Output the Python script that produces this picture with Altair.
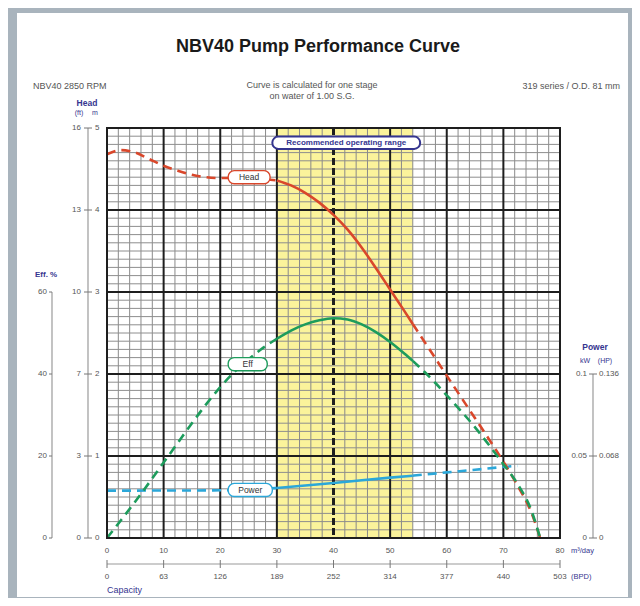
import altair as alt
import pandas as pd

# ---------------- data ----------------
flow = [0, 2.5, 5, 7.5, 10, 12.5, 15, 17.5, 20, 22.5, 25, 27.5, 30, 32.5, 35, 37.5,
        40, 42.5, 45, 47.5, 50, 52.5, 54, 56, 58, 60, 62.5, 65, 67.5, 70, 72.5, 75, 76.5]
head_m = [4.68, 4.73, 4.70, 4.62, 4.54, 4.48, 4.43, 4.40, 4.39, 4.39, 4.39, 4.38, 4.36, 4.30,
          4.21, 4.09, 3.94, 3.76, 3.54, 3.29, 3.03, 2.77, 2.61, 2.40, 2.19, 1.98, 1.72, 1.46,
          1.20, 0.93, 0.64, 0.30, 0.0]
eff_pct = [0, 4.4, 8.9, 13.6, 18.4, 23.2, 28.0, 32.6, 36.8, 40.5, 43.6, 46.3, 48.6, 50.6,
           52.1, 53.1, 53.6, 53.3, 52.1, 50.2, 47.8, 45.0, 43.2, 40.6, 37.8, 34.8, 31.0,
           27.0, 22.6, 18.0, 13.2, 6.5, 0]
power_flow = [0, 5, 10, 15, 20, 25, 30, 35, 40, 45, 50, 54, 60, 65, 70, 72.5]
power_kw = [0.0289, 0.0289, 0.0290, 0.0290, 0.0291, 0.0295, 0.0305, 0.0320, 0.0335,
            0.0352, 0.0368, 0.0380, 0.0400, 0.0416, 0.0433, 0.0440]

rec_range = [30, 54]
bep_flow = 40

x_ticks = [0, 10, 20, 30, 40, 50, 60, 70, 80]
x_labels = ["0", "10", "20", "30", "40", "50", "60", "70", "80"]
bpd_labels = ["0", "63", "126", "189", "252", "314", "377", "440", "503"]
head_m_ticks = [0, 1, 2, 3, 4, 5]
head_ft_labels = ["0", "3", "7", "10", "13", "16"]
eff_ticks = [0, 20, 40, 60]
power_ticks = [0, 0.05, 0.1]
power_kw_labels = ["0", "0.05", "0.1"]
power_hp_labels = ["0", "0.068", "0.136"]

# ---------------- style ----------------
W, H = 453, 410
FONT = "Liberation Sans"
RED, GREEN, BLUE = "#d9472b", "#1d9c5c", "#2ba7d9"
NAVY = "#35358f"
GRAYTXT = "#555555"

xs = alt.Scale(domain=[0, 80], nice=False, zero=False)
ys_head = alt.Scale(domain=[0, 5], nice=False, zero=False)
ys_eff = alt.Scale(domain=[0, 100], nice=False, zero=False)
ys_pow = alt.Scale(domain=[0, 0.25], nice=False, zero=False)

one = pd.DataFrame({"a": [0]})


def X(field, **kw):
    return alt.X(field, scale=xs, axis=None, **kw)


def Y(field, scale, **kw):
    return alt.Y(field, scale=scale, axis=None, **kw)


def txt(text, x, y, size=8, color=GRAYTXT, align="center", weight="normal"):
    return alt.Chart(pd.DataFrame({"t": [text]})).mark_text(
        align=align, baseline="middle", fontSize=size, color=color,
        fontWeight=weight, font=FONT
    ).encode(x=alt.value(x), y=alt.value(y), text="t:N")


def prect(x0, x1, y0, y1, color):
    return alt.Chart(one).mark_rect(color=color).encode(
        x=alt.value(x0), x2=alt.value(x1), y=alt.value(y0), y2=alt.value(y1))


layers = []

# frame
FRAME = "#a9b4bd"
layers += [prect(-99, -90, -120, 470, FRAME), prect(-99, 530, -120, -115, FRAME),
           prect(521, 530, -120, 470, FRAME), prect(-99, 530, 469, 478, FRAME)]

# recommended operating range band
band = pd.DataFrame({"x0": [rec_range[0]], "x1": [rec_range[1]]})
layers.append(alt.Chart(band).mark_rect(color="#fbf39b").encode(
    x=X("x0:Q"), x2="x1:Q"))

# minor grid
vminor = pd.DataFrame({"v": [v for v in range(0, 81, 2) if v % 10 != 0]})
hminor = pd.DataFrame({"v": [i / 10 for i in range(0, 51) if i % 10 != 0]})
layers.append(alt.Chart(vminor).mark_rule(color="#8a8a8a", strokeWidth=1).encode(x=X("v:Q")))
layers.append(alt.Chart(hminor).mark_rule(color="#8e8e8e", strokeWidth=1).encode(
    y=Y("v:Q", ys_head)))

# major grid
vmajor = pd.DataFrame({"v": [v for v in x_ticks if v != bep_flow]})
hmajor = pd.DataFrame({"v": head_m_ticks})
layers.append(alt.Chart(vmajor).mark_rule(color="#1e1e1e", strokeWidth=2).encode(x=X("v:Q")))
layers.append(alt.Chart(hmajor).mark_rule(color="#1e1e1e", strokeWidth=2).encode(
    y=Y("v:Q", ys_head)))
layers.append(alt.Chart(pd.DataFrame({"v": [bep_flow]})).mark_rule(
    color="#1e1e1e", strokeWidth=3, strokeDash=[7, 3]).encode(x=X("v:Q")))


def segments(xv, yv, name):
    rows = []
    for x, y in zip(xv, yv):
        if x <= rec_range[0]:
            rows.append({"x": x, "y": y, "part": "pre", "s": name})
        if rec_range[0] <= x <= rec_range[1]:
            rows.append({"x": x, "y": y, "part": "mid", "s": name})
        if x >= rec_range[1]:
            rows.append({"x": x, "y": y, "part": "post", "s": name})
    return pd.DataFrame(rows)


def curve(df, scale, color):
    dashed = alt.Chart(df[df.part != "mid"]).mark_line(
        color=color, strokeWidth=2.6, strokeDash=[9, 6], interpolate="monotone"
    ).encode(x=X("x:Q"), y=Y("y:Q", scale), detail="part:N", order="x:Q")
    solid = alt.Chart(df[df.part == "mid"]).mark_line(
        color=color, strokeWidth=2.6, interpolate="monotone"
    ).encode(x=X("x:Q"), y=Y("y:Q", scale), order="x:Q")
    return [dashed, solid]


layers += curve(segments(power_flow, power_kw, "Power"), ys_pow, BLUE)
layers += curve(segments(flow, head_m, "Head"), ys_head, RED)
layers += curve(segments(flow, eff_pct, "Eff"), ys_eff, GREEN)

# plot border
layers.append(prect(0, W, 0, H, "transparent").mark_rect(
    fill=None, stroke="#1e1e1e", strokeWidth=2))


# curve label boxes
def label_box(x0, x1, yc, hh, scale, color, text, tcolor="#333333", weight="normal", fill="white", sw=1.4, size=8.5):
    d = pd.DataFrame({"x0": [x0], "x1": [x1], "y0": [yc - hh], "y1": [yc + hh],
                      "xc": [(x0 + x1) / 2], "yc": [yc], "t": [text]})
    box = alt.Chart(d).mark_rect(fill=fill, stroke=color, strokeWidth=sw, cornerRadius=6).encode(
        x=X("x0:Q"), x2="x1:Q", y=Y("y0:Q", scale), y2="y1:Q")
    lab = alt.Chart(d).mark_text(fontSize=size, font=FONT, color=tcolor, fontWeight=weight,
                                 baseline="middle").encode(
        x=X("xc:Q"), y=Y("yc:Q", scale), text="t:N")
    return [box, lab]


layers += label_box(21.4, 28.8, 4.40, 0.08, ys_head, RED, "Head")
layers += label_box(21.4, 28.3, 42.4, 1.6, ys_eff, GREEN, "Eff")
layers += label_box(21.4, 29.2, 0.0293, 0.004, ys_pow, BLUE, "Power")
layers += label_box(29.2, 55.3, 4.82, 0.075, ys_head, NAVY, "Recommended operating range",
                    tcolor=NAVY, weight="bold", sw=2, size=8)

# ---------- left axes ----------
# head axis (ft | m)
layers.append(alt.Chart(pd.DataFrame({"a": [0], "b": [5]})).mark_rule(
    color="#9a9a9a", strokeWidth=1.2).encode(x=alt.value(-19), y=Y("a:Q", ys_head), y2="b:Q"))
hd = pd.DataFrame({"v": head_m_ticks, "ft": head_ft_labels, "m": [str(v) for v in head_m_ticks]})
layers.append(alt.Chart(hd).mark_rule(color="#777777").encode(
    x=alt.value(-23), x2=alt.value(-15), y=Y("v:Q", ys_head)))
layers.append(alt.Chart(hd).mark_text(align="right", baseline="middle", fontSize=8, font=FONT,
                                      color=GRAYTXT).encode(
    x=alt.value(-26), y=Y("v:Q", ys_head), text="ft:N"))
layers.append(alt.Chart(hd).mark_text(align="left", baseline="middle", fontSize=8, font=FONT,
                                      color=GRAYTXT).encode(
    x=alt.value(-12), y=Y("v:Q", ys_head), text="m:N"))
layers.append(txt("Head", -20, -25, size=8.5, color=NAVY, weight="bold"))
layers.append(txt("(ft)", -28, -15, size=7, color=NAVY))
layers.append(txt("m", -12, -15, size=7, color=NAVY))

# efficiency axis
layers.append(alt.Chart(pd.DataFrame({"a": [0], "b": [60]})).mark_rule(
    color="#9a9a9a", strokeWidth=1.2).encode(x=alt.value(-55), y=Y("a:Q", ys_eff), y2="b:Q"))
ed = pd.DataFrame({"v": eff_ticks, "t": [str(v) for v in eff_ticks]})
layers.append(alt.Chart(ed).mark_rule(color="#777777").encode(
    x=alt.value(-58), x2=alt.value(-55), y=Y("v:Q", ys_eff)))
layers.append(alt.Chart(ed).mark_text(align="right", baseline="middle", fontSize=8, font=FONT,
                                      color=GRAYTXT).encode(
    x=alt.value(-60), y=Y("v:Q", ys_eff), text="t:N"))
layers.append(txt("Eff. %", -72, 147, size=8, color=NAVY, align="left", weight="bold"))

# ---------- right axis (power) ----------
layers.append(alt.Chart(pd.DataFrame({"a": [0], "b": [0.1]})).mark_rule(
    color="#9a9a9a", strokeWidth=1.2).encode(x=alt.value(486), y=Y("a:Q", ys_pow), y2="b:Q"))
pdd = pd.DataFrame({"v": power_ticks, "kw": power_kw_labels, "hp": power_hp_labels})
layers.append(alt.Chart(pdd).mark_rule(color="#777777").encode(
    x=alt.value(482), x2=alt.value(490), y=Y("v:Q", ys_pow)))
layers.append(alt.Chart(pdd).mark_text(align="right", baseline="middle", fontSize=8, font=FONT,
                                      color=GRAYTXT).encode(
    x=alt.value(480), y=Y("v:Q", ys_pow), text="kw:N"))
layers.append(alt.Chart(pdd).mark_text(align="left", baseline="middle", fontSize=8, font=FONT,
                                      color=GRAYTXT).encode(
    x=alt.value(492), y=Y("v:Q", ys_pow), text="hp:N"))
layers.append(txt("Power", 488, 219, size=8.5, color=NAVY, weight="bold"))
layers.append(txt("kW", 478, 233, size=7, color=NAVY))
layers.append(txt("(HP)", 498, 233, size=7, color=NAVY))

# ---------- bottom axes ----------
xd = pd.DataFrame({"v": x_ticks, "t": x_labels, "b": bpd_labels})
layers.append(alt.Chart(xd).mark_text(baseline="middle", fontSize=8, font=FONT, color=GRAYTXT).encode(
    x=X("v:Q"), y=alt.value(423), text="t:N"))
layers.append(alt.Chart(xd).mark_text(baseline="middle", fontSize=8, font=FONT, color=GRAYTXT).encode(
    x=X("v:Q"), y=alt.value(449), text="b:N"))
layers.append(alt.Chart(pd.DataFrame({"a": [0], "b": [80]})).mark_rule(
    color="#9a9a9a", strokeWidth=1.2).encode(x=X("a:Q"), x2="b:Q", y=alt.value(436)))
layers.append(alt.Chart(xd).mark_rule(color="#777777").encode(
    x=X("v:Q"), y=alt.value(432), y2=alt.value(440)))
layers.append(txt("m³/day", 464, 423, size=7.5, color=NAVY, align="left"))
layers.append(txt("(BPD)", 464, 449, size=7.5, color=NAVY, align="left"))
layers.append(txt("Capacity", 0, 462, size=9, color=NAVY, align="left"))

# ---------- titles ----------
layers.append(txt("NBV40 Pump Performance Curve", 211, -81, size=18, color="#1a1a1a",
                  weight="bold"))
layers.append(txt("NBV40  2850 RPM", -74, -42, size=9, color=GRAYTXT, align="left"))
layers.append(txt("Curve is calculated for one stage", 205, -43, size=9, color=GRAYTXT))
layers.append(txt("on water of 1.00 S.G.", 205, -32, size=9, color=GRAYTXT))
layers.append(txt("319 series  /  O.D. 81 mm", 513, -42, size=9, color=GRAYTXT, align="right"))

chart = alt.layer(*layers).resolve_scale(y="independent").properties(
    width=W, height=H,
    padding={"left": 99, "top": 120, "right": 72, "bottom": 60},
    autosize=alt.AutoSizeParams(type="none"),
    background="white",
).configure_view(stroke=None)

chart.save("out.html", embed_options={"renderer": "svg", "actions": False})
